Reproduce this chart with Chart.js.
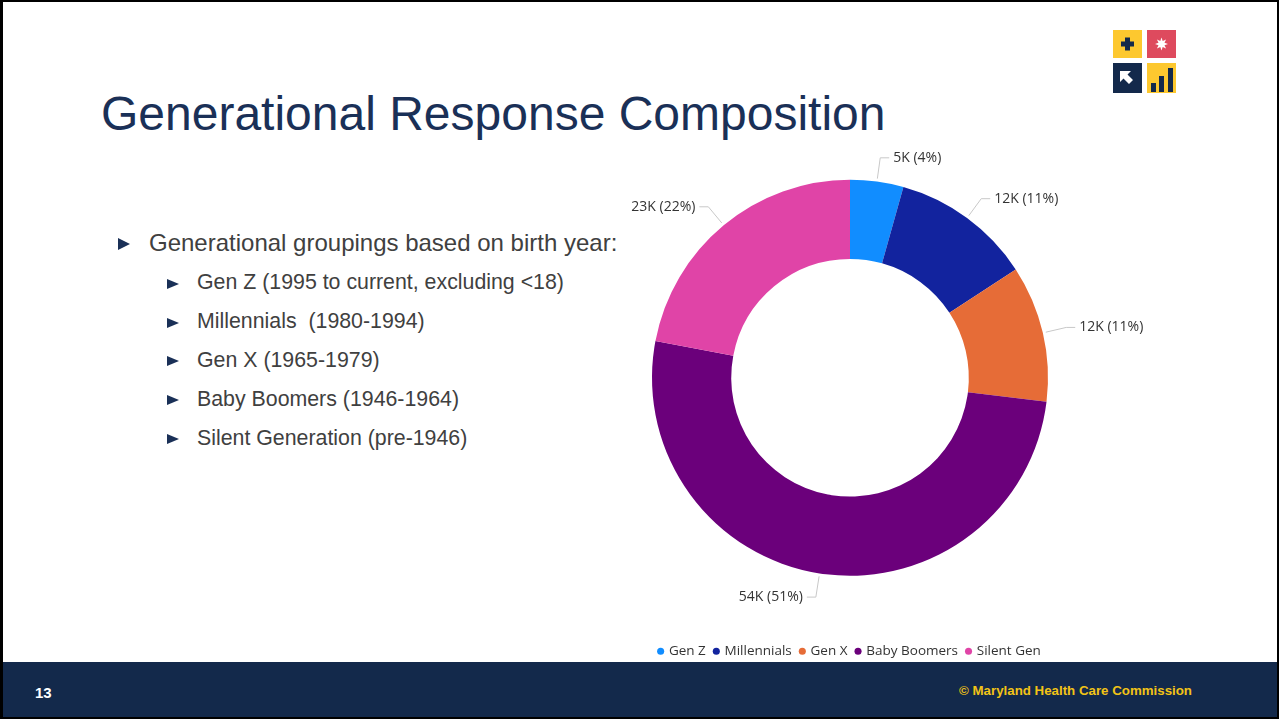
<!DOCTYPE html>
<html>
<head>
<meta charset="utf-8">
<title>Generational Response Composition</title>
<script src="https://cdn.jsdelivr.net/npm/chart.js@4.4.0/dist/chart.umd.min.js"></script>
<style>
    html, body { margin: 0; padding: 0; background: #fff; }
    .slide { position: relative; width: 1279px; height: 719px; overflow: hidden; background: #fff; font-family: "Liberation Sans", Arial, sans-serif; }
    .frame { position: absolute; left: 0; top: 0; width: 1279px; height: 719px; box-sizing: border-box; border: 2px solid #000; border-left-width: 3px; pointer-events: none; z-index: 10; }
    .title { position: absolute; left: 101px; top: 90px; font-size: 48px; line-height: 48px; color: #1A3057; white-space: nowrap; }
    .logo { position: absolute; left: 1113px; top: 30px; }
    .bullets { position: absolute; left: 0; top: 0; width: 616px; height: 660px; overflow: hidden; }
    .item { position: absolute; color: #404040; white-space: nowrap; }
    .tri { position: absolute; width: 0; height: 0; border-left-style: solid; border-left-color: #1A3057; border-top: 0 solid transparent; border-bottom: 0 solid transparent; }
    #chart { position: absolute; left: 550px; top: 120px; }
    .footer { position: absolute; left: 0; top: 662px; width: 1279px; height: 57px; background: #13294B; }
    .page { position: absolute; left: 35px; top: 684px; font-size: 15px; font-weight: bold; color: #fff; }
    .copy { position: absolute; right: 87px; top: 683px; font-size: 13.3px; font-weight: bold; color: #F2C316; white-space: nowrap; }
</style>
</head>
<body>
<div class="slide">
    <div class="title">Generational Response Composition</div>

    <svg class="logo" width="63" height="63" viewBox="0 0 63 63">
        <rect x="0" y="0" width="29" height="28" fill="#FDC82F"/>
        <rect x="12" y="7.5" width="5" height="13" fill="#13294B"/>
        <rect x="8" y="11.5" width="13" height="5" fill="#13294B"/>
        <rect x="34" y="0" width="29" height="28" fill="#DE4A5E"/>
        <polygon transform="translate(34,0)" fill="#fff"
            points="14.5,7.5 15.7,11 19.1,9.4 17.5,12.8 21,14 17.5,15.2 19.1,18.6 15.7,17 14.5,20.5 13.3,17 9.9,18.6 11.5,15.2 8,14 11.5,12.8 9.9,9.4 13.3,11"/>
        <rect x="0" y="33" width="29" height="30" fill="#13294B"/>
        <polygon fill="#fff" points="7,41 18,41 14.5,44.5 20,50 16,54 10.5,48.5 7,52"/>
        <rect x="34" y="33" width="29" height="30" fill="#FDC82F"/>
        <rect x="38" y="53" width="5" height="9" fill="#13294B"/>
        <rect x="46" y="46" width="5" height="16" fill="#13294B"/>
        <rect x="55" y="38" width="5" height="24" fill="#13294B"/>
    </svg>

    <div class="bullets" id="bullets"></div>

    <canvas id="chart" width="600" height="548"></canvas>

    <div class="footer"></div>
    <div class="page">13</div>
    <div class="copy">© Maryland Health Care Commission</div>
    <div class="frame"></div>
</div>

<script>
// Slide bullet text
var bulletLines = [
    { text: 'Generational groupings based on birth year:', level: 0, baseline: 251 },
    { text: 'Gen Z (1995 to current, excluding <18)', level: 1, baseline: 290.5 },
    { text: 'Millennials\u00a0 (1980-1994)', level: 1, baseline: 329.5 },
    { text: 'Gen X (1965-1979)', level: 1, baseline: 368 },
    { text: 'Baby Boomers (1946-1964)', level: 1, baseline: 407 },
    { text: 'Silent Generation (pre-1946)', level: 1, baseline: 446 }
];

// Responses per generation
var generations = ['Gen Z', 'Millennials', 'Gen X', 'Baby Boomers', 'Silent Gen'];
var responses = [4600, 12100, 11800, 54000, 23300];
var sliceColors = ['#118DFF', '#12239E', '#E66C37', '#6B007B', '#E044A7'];

var bulletBox = document.getElementById('bullets');
bulletLines.forEach(function (line) {
    var top = line.level === 0;
    var fontSize = top ? 24 : 21.33;
    var textX = top ? 149 : 197;
    var triX = top ? 118 : 167;
    var triW = top ? 12.7 : 12;
    var triH = top ? 12.4 : 11;

    var tri = document.createElement('div');
    tri.className = 'tri';
    tri.style.left = triX + 'px';
    tri.style.top = (line.baseline - 6.5 - triH / 2) + 'px';
    tri.style.borderLeftWidth = triW + 'px';
    tri.style.borderTopWidth = (triH / 2) + 'px';
    tri.style.borderBottomWidth = (triH / 2) + 'px';
    bulletBox.appendChild(tri);

    var item = document.createElement('div');
    item.className = 'item';
    item.style.fontSize = fontSize + 'px';
    item.style.lineHeight = fontSize + 'px';
    item.style.left = textX + 'px';
    item.style.top = (line.baseline - 0.8465 * fontSize) + 'px';
    item.textContent = line.text;
    bulletBox.appendChild(item);
});

function formatLabel(value, total) {
    return Math.round(value / 1000) + 'K (' + Math.round(value / total * 100) + '%)';
}

// Outside labels with elbow leader lines
var leaderLabels = {
    id: 'leaderLabels',
    afterDatasetsDraw: function (chart) {
        var ctx = chart.ctx;
        var meta = chart.getDatasetMeta(0);
        var values = chart.data.datasets[0].data;
        var total = values.reduce(function (a, b) { return a + b; }, 0);

        ctx.save();
        ctx.font = '14px "Open Sans", sans-serif';
        ctx.textBaseline = 'middle';
        ctx.lineWidth = 1;

        meta.data.forEach(function (arc, i) {
            var p = arc.getProps(['x', 'y', 'startAngle', 'endAngle', 'outerRadius'], true);
            var mid = (p.startAngle + p.endAngle) / 2;
            var cos = Math.cos(mid), sin = Math.sin(mid);
            var x1 = p.x + cos * (p.outerRadius + 3);
            var y1 = p.y + sin * (p.outerRadius + 3);
            var x2 = p.x + cos * (p.outerRadius + 24);
            var y2 = p.y + sin * (p.outerRadius + 24);
            var dir = cos >= 0 ? 1 : -1;
            var x3 = x2 + dir * 9;

            ctx.strokeStyle = '#c8c8c8';
            ctx.beginPath();
            ctx.moveTo(x1, y1);
            ctx.lineTo(x2, y2);
            ctx.lineTo(x3, y2);
            ctx.stroke();

            ctx.fillStyle = '#333';
            ctx.textAlign = dir > 0 ? 'left' : 'right';
            ctx.fillText(formatLabel(values[i], total), x3 + dir * 4, y2);
        });
        ctx.restore();
    }
};

new Chart(document.getElementById('chart').getContext('2d'), {
    type: 'doughnut',
    data: {
        labels: generations,
        datasets: [{
            data: responses,
            backgroundColor: sliceColors,
            borderWidth: 0
        }]
    },
    options: {
        responsive: false,
        animation: false,
        devicePixelRatio: 1,
        radius: 198,
        cutout: '60%',
        layout: { padding: 0 },
        plugins: {
            legend: {
                position: 'bottom',
                labels: {
                    usePointStyle: true,
                    pointStyle: 'circle',
                    boxWidth: 3,
                    boxHeight: 5,
                    padding: 9,
                    color: '#333',
                    font: { family: 'Open Sans', size: 13.5 }
                }
            },
            tooltip: { enabled: false }
        }
    },
    plugins: [leaderLabels]
});
</script>
</body>
</html>
